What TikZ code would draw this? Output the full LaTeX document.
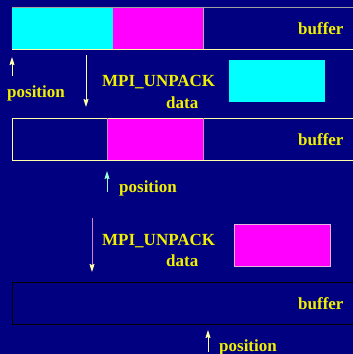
\documentclass[tikz,border=0pt]{standalone}
\usepackage{fontspec}
\setmainfont{Liberation Serif}
\usetikzlibrary{arrows.meta}
\definecolor{navy}{RGB}{0,0,128}
\definecolor{txtyel}{RGB}{240,240,0}
\definecolor{cream}{RGB}{255,255,170}
\definecolor{edgegray}{RGB}{160,160,160}
\definecolor{pinkline}{RGB}{210,130,200}
\definecolor{mag}{RGB}{255,0,255}
\definecolor{cy}{RGB}{0,255,255}
\tikzset{
  lbl/.style={anchor=base west, inner sep=0pt, text=txtyel, font=\fontsize{17}{17}\selectfont\bfseries},
  ptr/.style={line width=1pt, -{Stealth[length=8pt,width=5pt,inset=1pt]}},
}
\begin{document}
\begin{tikzpicture}[x=1pt,y=-1pt]
\useasboundingbox (0,0) rectangle (353,354);
\fill[navy] (0,0) rectangle (353,354);
\clip (0,0) rectangle (353,354);
% buffer 1
\fill[cy] (12,7) rectangle (113,49);
\fill[mag] (113,7) rectangle (203,49);
\draw[edgegray, line width=1pt] (12,7) -- (360,7);
\draw[cream, line width=1pt] (12,49) -- (360,49);
\draw[edgegray!70!pink, line width=1pt] (203,7) -- (203,49);
\node[lbl] (buf1) at (298,34) {buffer};
% step 1 labels
\coordinate (u1s) at (12,76); \coordinate (u1e) at (12,57);
\draw[ptr, cream] (u1s) -- (u1e);
\node[lbl] (pos1) at (7,97) {position};
\coordinate (d1s) at (86,55); \coordinate (d1e) at (86,107);
\draw[ptr, cream] (d1s) -- (d1e);
\node[lbl] (mpi1) at (102,86) {MPI\_UNPACK};
\node[lbl] (data1) at (166,108) {data};
\fill[cy] (229,60) rectangle (325,102);
% buffer 2
\fill[mag] (107,118) rectangle (203,160);
\draw[cream, line width=1pt] (360,118) -- (12,118) -- (12,160) -- (360,160);
\draw[pinkline, line width=1pt] (107,118) -- (107,160);
\draw[pinkline, line width=1pt] (203,118) -- (203,160);
\node[lbl] (buf2) at (298,145) {buffer};
\coordinate (u2s) at (107,192); \coordinate (u2e) at (107,171);
\draw[ptr, cream!60!cyan] (u2s) -- (u2e);
\node[lbl] (pos2) at (119,192) {position};
% step 2
\coordinate (d2s) at (92,218); \coordinate (d2e) at (92,272);
\draw[line width=1pt, pinkline, -{Stealth[length=8pt,width=5pt,inset=1pt,color=cream]}] (d2s) -- (d2e);
\node[lbl] (mpi2) at (102,245) {MPI\_UNPACK};
\node[lbl] (data2) at (166,266) {data};
\fill[mag, draw=pinkline!60!white, line width=1pt] (234,224) rectangle (330,266);
% buffer 3
\draw[black, line width=1pt] (360,282) -- (12,282) -- (12,324) -- (360,324);
\node[lbl] (buf3) at (298,309) {buffer};
\coordinate (u3s) at (208,352); \coordinate (u3e) at (208,330);
\draw[ptr, cream] (u3s) -- (u3e);
\node[lbl] (pos3) at (219,351) {position};
\end{tikzpicture}
\end{document}
